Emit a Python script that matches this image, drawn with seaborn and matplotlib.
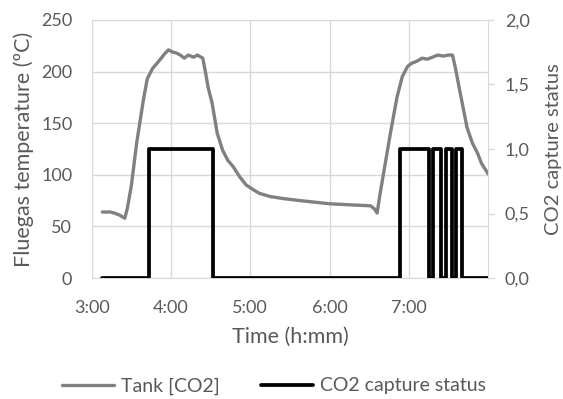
import matplotlib
matplotlib.use("Agg")
import matplotlib.pyplot as plt
import seaborn as sns
from matplotlib.ticker import FuncFormatter, MultipleLocator

# data (time as h:mm)
temp_time = ["3:08", "3:14", "3:17", "3:21", "3:25", "3:27", "3:30", "3:34", "3:39", "3:42",
             "3:46", "3:52", "3:55", "3:58", "4:01", "4:04", "4:07", "4:10", "4:13", "4:17",
             "4:20", "4:24", "4:26", "4:28", "4:31", "4:35", "4:39", "4:43", "4:47", "4:52",
             "4:57", "5:03", "5:07", "5:15", "5:25", "5:38", "6:00", "6:15", "6:31", "6:34",
             "6:36", "6:38", "6:42", "6:46", "6:51", "6:55", "6:59", "7:02", "7:06", "7:10",
             "7:14", "7:18", "7:22", "7:26", "7:30", "7:33", "7:35", "7:38", "7:40", "7:44",
             "7:48", "7:52", "7:55", "8:00"]
temp_value = [64, 64, 63, 61, 58, 68, 90, 131, 172, 193,
              203, 212, 217, 221, 219, 218, 216, 213, 216, 214,
              216, 213, 200, 185, 170, 140, 124, 114, 108, 98,
              90, 85, 82, 79, 77, 75, 72, 71, 70, 67,
              63, 80, 110, 140, 175, 195, 205, 208, 210, 213,
              212, 214, 216, 215, 216, 216, 205, 185, 172, 146,
              131, 121, 111, 101]

status_time = ["3:08", "3:43", "4:32", "6:53", "7:15", "7:18", "7:24", "7:28",
               "7:33", "7:36", "7:40", "8:00"]
status_value = [0, 1, 0, 1, 0, 1, 0, 1, 0, 1, 0, 0]

hour_ticks = [3, 4, 5, 6, 7]


def to_hours(s):
    h, m = s.split(":")
    return int(h) + int(m) / 60


def hmm(x, pos):
    h = int(x)
    m = int(round((x - h) * 60))
    return f"{h}:{m:02d}"


sns.set_style("white")
plt.rcParams['font.family'] = ['Lato', 'DejaVu Sans']
txt = "#595959"
grid_c = "#d9d9d9"

fig = plt.figure(figsize=(5.63, 3.99), dpi=100)
ax = fig.add_axes([0.163, 0.303, 0.704, 0.647])
ax2 = ax.twinx()

sns.lineplot(x=[to_hours(t) for t in temp_time], y=temp_value, ax=ax,
             color="#808080", linewidth=2.4, label="Tank [CO2]", sort=False)
sns.lineplot(x=[to_hours(t) for t in status_time], y=status_value, ax=ax2,
             color="black", linewidth=2.7, drawstyle="steps-post",
             label="CO2 capture status", sort=False, estimator=None)

ax.set_xlim(3, 8)
ax.set_ylim(0, 250)
ax2.set_ylim(0, 2)
ax.set_xticks(hour_ticks)
ax.xaxis.set_major_formatter(FuncFormatter(hmm))
ax.yaxis.set_major_locator(MultipleLocator(50))
ax2.yaxis.set_major_locator(MultipleLocator(0.5))
ax2.yaxis.set_major_formatter(FuncFormatter(lambda v, p: f"{v:.1f}".replace(".", ",")))

ax.grid(True, color=grid_c, linewidth=1)
ax.set_axisbelow(True)
for a in (ax, ax2):
    for s in a.spines.values():
        s.set_visible(False)
ax.spines['bottom'].set_visible(True)
ax.spines['bottom'].set_color(grid_c)
ax2.spines['right'].set_visible(True)
ax2.spines['right'].set_color(grid_c)

ax.tick_params(axis='both', length=0, labelsize=13, labelcolor=txt)
ax.tick_params(axis='y', pad=14)
ax.tick_params(axis='x', pad=16)
ax2.tick_params(axis='y', length=4, width=1, color=grid_c, direction='out',
                labelsize=13, labelcolor=txt, pad=8)

ax.set_xlabel("Time (h:mm)", fontsize=15.5, color=txt)
ax.set_ylabel("Fluegas temperature (ºC)", fontsize=15.5, color=txt)
ax2.set_ylabel("CO2 capture status", fontsize=14.5, color=txt)
ax.xaxis.set_label_coords(0.5, -0.19)
ax.yaxis.set_label_coords(-0.147, 0.5)
ax2.yaxis.set_label_coords(1.144, 0.5)

h1, l1 = ax.get_legend_handles_labels()
h2, l2 = ax2.get_legend_handles_labels()
ax.get_legend().remove()
ax2.get_legend().remove()
fig.legend(h1 + h2, l1 + l2, loc="center", bbox_to_anchor=(274 / 563, 1 - 386 / 399),
           ncol=2, frameon=False, fontsize=14, labelcolor=txt,
           handlelength=2.7, handletextpad=0.35, columnspacing=2.1)

fig.savefig("out.png", dpi=100)
